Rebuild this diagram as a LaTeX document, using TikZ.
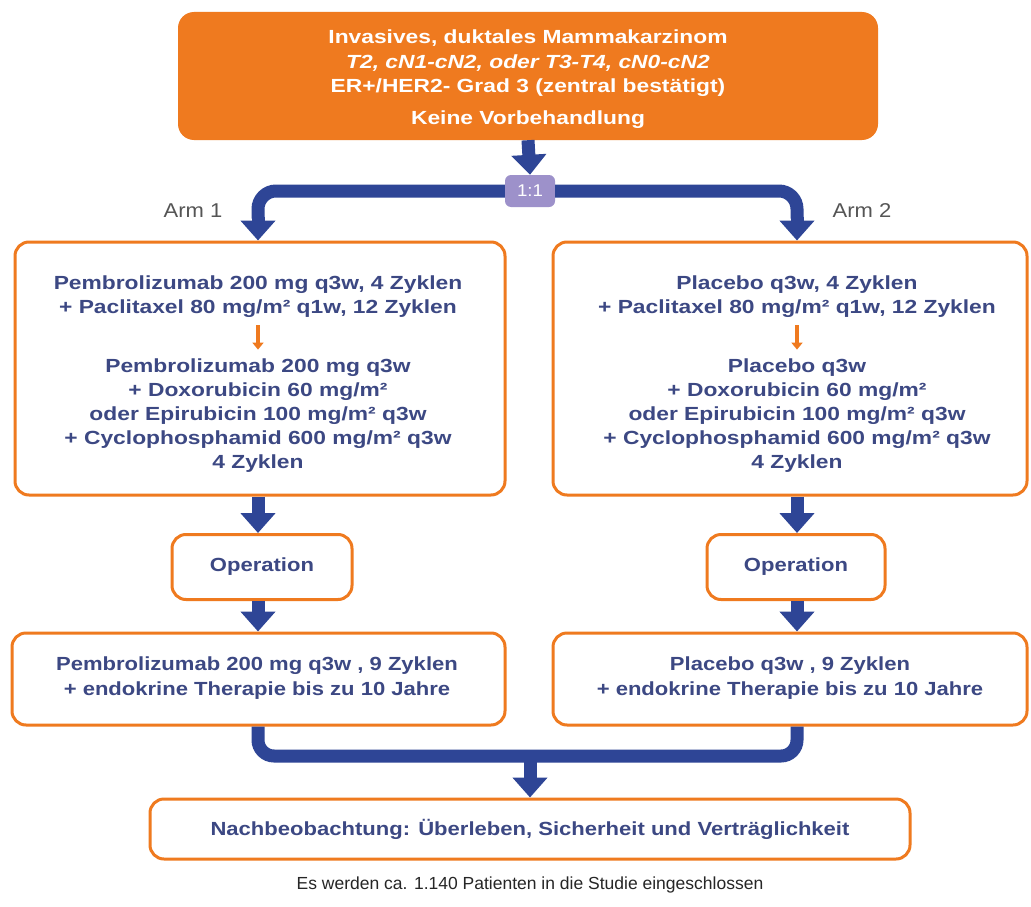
\documentclass[tikz,border=0pt]{standalone}
\usepackage{fontspec}
\setmainfont{Liberation Sans}
\newfontfamily\widef[FakeStretch=1.2]{Liberation Sans}
\newfontfamily\midf[FakeStretch=1.16]{Liberation Sans}
\newfontfamily\armf[FakeStretch=1.1]{Liberation Sans}
\usetikzlibrary{arrows.meta,positioning,calc}
\definecolor{orng}{HTML}{EF7A1F}
\definecolor{navy}{HTML}{2E4596}
\definecolor{txtb}{HTML}{3C4883}
\definecolor{lila}{HTML}{9D91CA}
\definecolor{armg}{HTML}{555555}
\tikzset{
  obox/.style={draw=orng, line width=3pt, rounded corners=14pt, fill=white, inner sep=0pt},
  topbox/.style={fill=orng, rounded corners=16pt, inner sep=0pt},
  bar/.style={draw=navy, line width=13pt},
  barrow/.style={draw=navy, line width=13pt, -{Triangle[width=34pt,length=20pt]}},
  oarrow/.style={draw=orng, line width=4pt, -{Triangle[width=11pt,length=7pt]}},
  widetxt/.style={text=txtb, align=center, font={\widef\bfseries\fontsize{19}{24}\selectfont}},
  condtxt/.style={text=txtb, align=center, font={\midf\bfseries\fontsize{19}{25}\selectfont}},
}
\begin{document}
\begin{tikzpicture}[x=1pt,y=-1pt]
\useasboundingbox[fill=white] (0,0) rectangle (1031,907);
% top box
\node[topbox, minimum width=700pt, minimum height=128pt] (top) at (528,76) {};
\node[text=white, align=center, font={\widef\bfseries\fontsize{19}{24.5}\selectfont}] (toptxt) at (528,63.5)
  {Invasives, duktales Mammakarzinom\\ \itshape T2, cN1-cN2, oder T3-T4, cN0-cN2\\ ER+/HER2- Grad 3 (zentral bestätigt)};
\node[text=white, font={\widef\bfseries\fontsize{19}{24}\selectfont}] (toptxt2) at (528,120) {Keine Vorbehandlung};
% randomisation
\node[fill=lila, rounded corners=6pt, minimum width=50pt, minimum height=32pt, inner sep=0pt,
      text=white, font={\armf\fontsize{17}{18}\selectfont}] (r) at (530,191) {1:1};
\node[text=armg, font={\armf\fontsize{20}{22}\selectfont}] (arm1) at (193,211) {Arm 1};
\node[text=armg, font={\armf\fontsize{20}{22}\selectfont}] (arm2) at (862,211) {Arm 2};
% arm boxes
\node[obox, minimum width=490pt, minimum height=253pt] (b1) at (260,368.5) {};
\node[obox, minimum width=474pt, minimum height=253pt] (b2) at (790,368.5) {};
\node[widetxt] (b1a) at (258,297) {Pembrolizumab 200 mg q3w, 4 Zyklen\\+ Paclitaxel 80 mg/m² q1w, 12 Zyklen};
\node[widetxt] (b1b) at (258,416) {Pembrolizumab 200 mg q3w\\+ Doxorubicin 60 mg/m²\\oder Epirubicin 100 mg/m² q3w\\+ Cyclophosphamid 600 mg/m² q3w\\4 Zyklen};
\node[widetxt] (b2a) at (797,297) {Placebo q3w, 4 Zyklen\\+ Paclitaxel 80 mg/m² q1w, 12 Zyklen};
\node[widetxt] (b2b) at (797,416) {Placebo q3w\\+ Doxorubicin 60 mg/m²\\oder Epirubicin 100 mg/m² q3w\\+ Cyclophosphamid 600 mg/m² q3w\\4 Zyklen};
\coordinate (lx) at (258,0);
\coordinate (rx) at (797,0);
\draw[oarrow] ($(b1a.south)+(0,4)$) -- ($(b1b.north)+(0,-6)$);
\draw[oarrow] ($(b2a.south)+(0,4)$) -- ($(b2b.north)+(0,-6)$);
% operation
\node[obox, minimum width=180pt, minimum height=65pt, condtxt] (op1) at (262,567) {Operation};
\node[obox, minimum width=178pt, minimum height=65pt, condtxt] (op2) at (796,567) {Operation};
% follow-up boxes
\node[obox, minimum width=493pt, minimum height=92pt] (c1) at (258.5,679) {};
\node[obox, minimum width=474pt, minimum height=92pt] (c2) at (790,679) {};
\node[condtxt] (c1t) at (257,678) {Pembrolizumab 200 mg q3w , 9 Zyklen\\+ endokrine Therapie bis zu 10 Jahre};
\node[condtxt] (c2t) at (790,678) {Placebo q3w , 9 Zyklen\\+ endokrine Therapie bis zu 10 Jahre};
% final
\node[obox, minimum width=760pt, minimum height=60pt, condtxt] (f) at (530,829) {Nachbeobachtung: Überleben, Sicherheit und Verträglichkeit};
\node[text=black!85, font={\fontsize{17.5}{22}\selectfont}] (note) at (530,885) {Es werden ca. 1.140 Patienten in die Studie eingeschlossen};
% connectors
\draw[barrow] (top.south) -- (r.north);
\draw[bar, rounded corners=18pt] (r.west) -| ($(b1.north -| lx)+(0,-22)$);
\draw[barrow] ($(b1.north -| lx)+(0,-24)$) -- (b1.north -| lx);
\draw[bar, rounded corners=18pt] (r.east) -| ($(b2.north -| rx)+(0,-22)$);
\draw[barrow] ($(b2.north -| rx)+(0,-24)$) -- (b2.north -| rx);
\draw[barrow] (b1.south -| lx) -- (op1.north -| lx);
\draw[barrow] (b2.south -| rx) -- (op2.north -| rx);
\draw[barrow] (op1.south -| lx) -- (c1.north -| lx);
\draw[barrow] (op2.south -| rx) -- (c2.north -| rx);
\coordinate (m) at (530,756);
\draw[bar, rounded corners=16pt] (c1.south -| lx) |- (m) -| (c2.south -| rx);
\draw[barrow] (m) -- (f.north);
\end{tikzpicture}
\end{document}
